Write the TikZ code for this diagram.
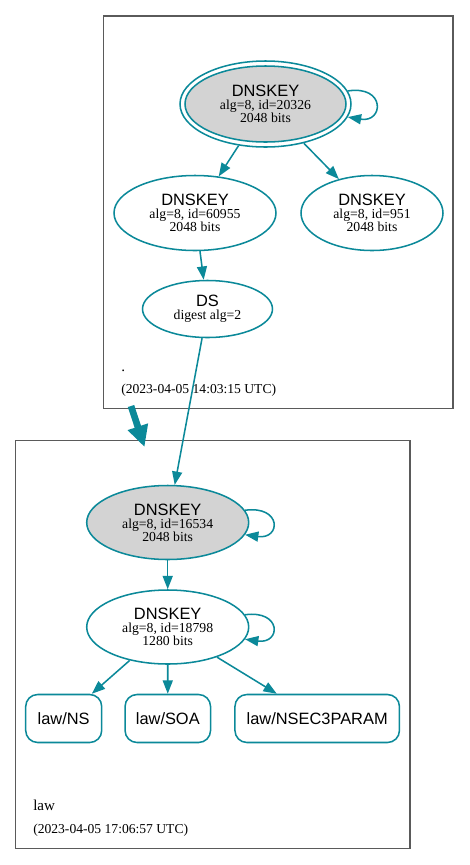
\documentclass[tikz,border=0pt]{standalone}
\usepackage{fontspec}
\setmainfont{Liberation Serif}
\setsansfont{Liberation Sans}
\usetikzlibrary{arrows.meta,shapes.geometric}
\definecolor{edgec}{HTML}{0B8999}
\definecolor{fillg}{HTML}{D3D3D3}
\definecolor{boxc}{HTML}{5A5A5A}
\newdimen\pxu \pxu=0.75pt
\newcommand{\keylbl}[3]{{\sffamily\fontsize{12.3}{10}\selectfont #1}\\{\fontsize{10.3}{9.7}\selectfont #2}\\{\fontsize{10.3}{9.7}\selectfont #3}}
\tikzset{
  cluster/.style={draw=boxc,line width=0.8pt},
  keynode/.style={ellipse,draw=edgec,line width=1.15pt,inner sep=0pt,align=center,font=\fontsize{10.3}{9.7}\selectfont,execute at begin node={\lineskiplimit=-20pt\relax}},
  rrnode/.style={rectangle,rounded corners=9pt,draw=edgec,line width=1.15pt,inner sep=0pt,font=\sffamily\fontsize{12.3}{14}\selectfont,minimum height=48\pxu},
  edge/.style={draw=edgec,line width=1.15pt,-{Triangle[length=10pt,width=7.5pt]}},
  thick edge/.style={draw=edgec,line width=5pt,-{Triangle[length=16pt,width=15pt]}},
  zlabel/.style={anchor=base west,inner sep=0pt,font=\fontsize{11.3}{12}\selectfont},
  dlabel/.style={anchor=base west,inner sep=0pt,font=\fontsize{10.2}{12}\selectfont},
}
\begin{document}
\begin{tikzpicture}[x=0.75pt,y=-0.75pt]
\useasboundingbox (0,0) rectangle (469,865);
% clusters
\draw[cluster] (103.5,16) rectangle (453,408.5);
\draw[cluster] (15.5,440.5) rectangle (410,848.5);
% thick zone edge
\coordinate (zs) at (131,406);
\coordinate (ze) at (144.5,447);
\draw[thick edge] (zs) -- (ze);
% top cluster nodes
\node[keynode,minimum width=171\pxu,minimum height=86\pxu] (root) at (265.5,104) {};
\node[keynode,fill=fillg,minimum width=161\pxu,minimum height=76\pxu] (rootin) at (265.5,104) {\keylbl{DNSKEY}{alg=8, id=20326}{2048 bits}};
\node[keynode,minimum width=162\pxu,minimum height=75\pxu] (k2) at (195,213) {\keylbl{DNSKEY}{alg=8, id=60955}{2048 bits}};
\node[keynode,minimum width=142\pxu,minimum height=75\pxu] (k3) at (372,213) {\keylbl{DNSKEY}{alg=8, id=951}{2048 bits}};
\node[keynode,minimum width=130\pxu,minimum height=57\pxu] (ds) at (207.5,309) {{\sffamily\fontsize{12.3}{10}\selectfont DS}\\digest alg=2};
\node[zlabel] (zn1) at (121,371) {.};
\node[dlabel] (zd1) at (121,393.5) {(2023-04-05 14:03:15 UTC)};
% bottom cluster nodes
\node[keynode,fill=fillg,minimum width=162\pxu,minimum height=74\pxu] (k4) at (167.7,522.5) {\keylbl{DNSKEY}{alg=8, id=16534}{2048 bits}};
\node[keynode,minimum width=162\pxu,minimum height=74\pxu] (k5) at (167.7,627) {\keylbl{DNSKEY}{alg=8, id=18798}{1280 bits}};
\node[rrnode,minimum width=76\pxu] (ns) at (63.7,718.5) {law/NS};
\node[rrnode,minimum width=85.5\pxu] (soa) at (167.8,718.5) {law/SOA};
\node[rrnode,minimum width=164.5\pxu] (n3p) at (317.2,718.5) {law/NSEC3PARAM};
\node[zlabel] (zn2) at (33,810.5) {law};
\node[dlabel] (zd2) at (33,833) {(2023-04-05 17:06:57 UTC)};
% edges
\draw[edge] (root.9) .. controls +(38,-6) and +(36,6) .. (root.-9);
\draw[edge] (root) -- (k2);
\draw[edge] (root) -- (k3);
\draw[edge] (k2) -- (ds);
\draw[edge] (ds) -- (k4);
\draw[edge] (k4.9) .. controls +(37,-5) and +(36,5) .. (k4.-9);
\draw[edge] (k4) -- (k5);
\draw[edge] (k5.9) .. controls +(37,-5) and +(36,5) .. (k5.-9);
\draw[edge] (k5) -- (ns);
\draw[edge] (k5) -- (soa);
\draw[edge] (k5) -- (n3p);
\end{tikzpicture}
\end{document}
